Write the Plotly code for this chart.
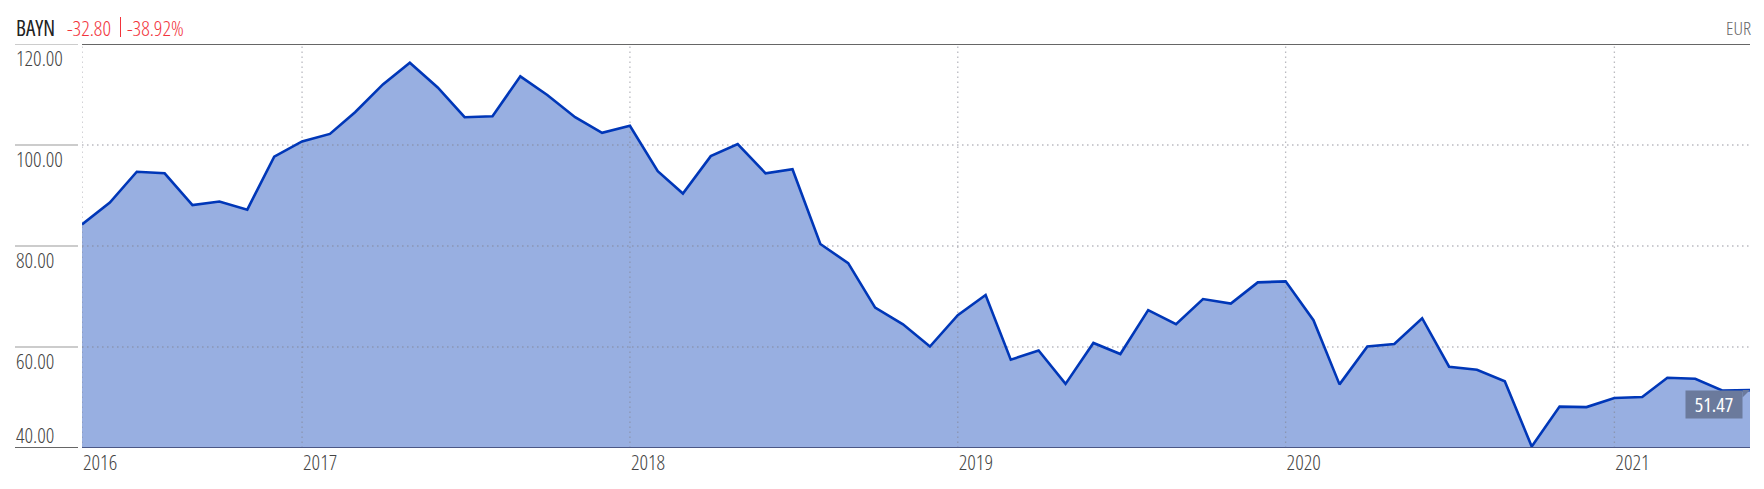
import pandas as pd
import plotly.graph_objects as go

# ---------------- data ----------------
ticker = "BAYN"
currency = "EUR"
dates = pd.date_range("2016-05-01", "2021-06-01", freq="MS")
prices = [
    84.27, 88.6, 94.7, 94.4, 88.1, 88.8, 87.2, 97.7,
    100.7, 102.2, 106.5, 112.0, 116.3, 111.4, 105.5, 105.7, 113.6, 109.9, 105.5, 102.4,
    103.8, 94.8, 90.4, 97.8, 100.2, 94.4, 95.2, 80.4, 76.6, 67.8, 64.5, 60.1,
    66.3, 70.3, 57.5, 59.3, 52.7, 60.8, 58.6, 67.3, 64.5, 69.5, 68.6, 72.8,
    73.0, 65.3, 52.6, 60.1, 60.6, 65.7, 56.1, 55.5, 53.2, 40.3, 48.2, 48.1,
    49.9, 50.1, 53.9, 53.7, 51.4, 51.47,
]
y_ticks = [40, 60, 80, 100, 120]
y_tick_labels = ["40.00", "60.00", "80.00", "100.00", "120.00"]
x_ticks = ["2016-05-01", "2017-01-01", "2018-01-01", "2019-01-01", "2020-01-01", "2021-01-01"]
x_tick_labels = ["2016", "2017", "2018", "2019", "2020", "2021"]

# ---------------- layout constants ----------------
OFF = 8                       # default page body margin
W, H = 1764 - OFF, 489 - 2 * OFF
ML, MT = 82 - OFF, 44 - OFF
MR = W - (1750 - OFF)
MB = H - (448 - OFF)
PW, PH = W - ML - MR, H - MT - MB
FONT = "Open Sans, Roboto, sans-serif"
FS = 21
LINE_C = "#0037b8"
FILL_C = "#98afe1"
RED = "#f2333b"
TXT = "#444444"


def px_x(p):
    return (p - OFF - ML) / PW


def px_y(p):
    return (H - MB - (p - OFF)) / PH


def cond(t):
    return f"<span style='font-stretch:87%'>{t}</span>"


first, last = prices[0], prices[-1]
change = last - first
pct = change / first * 100

fig = go.Figure()

# area
fig.add_trace(go.Scatter(
    x=dates, y=prices, mode="lines", fill="tozeroy",
    fillcolor=FILL_C, line=dict(color=FILL_C, width=0), hoverinfo="skip",
))

# dotted grid above the fill
gx, gy = [], []
for v in y_ticks[1:-1]:
    gx += [dates[0], dates[-1], None]
    gy += [v, v, None]
for d in x_ticks:
    gx += [pd.Timestamp(d), pd.Timestamp(d), None]
    gy += [y_ticks[0], y_ticks[-1], None]
fig.add_trace(go.Scatter(
    x=gx, y=gy, mode="lines", hoverinfo="skip",
    line=dict(color="rgba(130,130,140,0.55)", width=1.3, dash="1.5px,3.5px"),
))

# price line
fig.add_trace(go.Scatter(
    x=dates, y=prices, mode="lines",
    line=dict(color=LINE_C, width=2.6), hoverinfo="skip",
))

shapes = []
annotations = []

# left tick segments and y labels
for v, t in zip(y_ticks, y_tick_labels):
    bottom = v == y_ticks[0]
    shapes.append(dict(
        type="line", xref="paper", yref="y", x0=px_x(15), x1=px_x(78), y0=v, y1=v,
        line=dict(color="#666666" if bottom else "#cccccc", width=2),
    ))
    annotations.append(dict(
        xref="paper", yref="y", x=px_x(14), y=v, xanchor="left",
        yanchor="bottom" if bottom else "top",
        yshift=-3 if bottom else 2, text=cond(t), showarrow=False,
        font=dict(family=FONT, size=FS, weight=300, color=TXT),
    ))

# top and bottom frame lines
shapes.append(dict(type="line", xref="paper", yref="y", x0=0, x1=1,
                   y0=y_ticks[-1], y1=y_ticks[-1],
                   line=dict(color="#666666", width=2.2)))
shapes.append(dict(type="line", xref="paper", yref="y", x0=0, x1=1,
                   y0=y_ticks[0], y1=y_ticks[0],
                   line=dict(color="#4b5785", width=2)))

# last price flag
annotations.append(dict(
    x=dates[-1], y=last, xref="x", yref="y", xanchor="right", yanchor="top",
    xshift=-7, text=cond(f"{last:.2f}"), showarrow=False, bgcolor="#6b7a9c",
    width=48, height=19, borderpad=4,
    font=dict(family=FONT, size=FS - 1, weight=400, color="white"),
))
shapes.append(dict(
    type="path", xref="x", yref="y", xsizemode="pixel", ysizemode="pixel",
    xanchor=dates[-1], yanchor=last, path="M -7.5,0 L 0,0 L -7.5,-7.5 Z",
    fillcolor="#6b7a9c", line=dict(width=0),
))

# header
annotations.append(dict(xref="paper", yref="paper", x=px_x(14), y=px_y(27.5),
                        xanchor="left", yanchor="middle", text=cond(ticker), showarrow=False,
                        font=dict(family=FONT, size=FS, weight=400, color="#222222")))
annotations.append(dict(xref="paper", yref="paper", x=px_x(65), y=px_y(27.5),
                        xanchor="left", yanchor="middle", text=cond(f"{change:.2f}"), showarrow=False,
                        font=dict(family=FONT, size=FS, weight=300, color=RED)))
annotations.append(dict(xref="paper", yref="paper", x=px_x(125), y=px_y(27.5),
                        xanchor="left", yanchor="middle", text=cond(f"{pct:.2f}%"), showarrow=False,
                        font=dict(family=FONT, size=FS, weight=300, color=RED)))
shapes.append(dict(type="line", xref="paper", yref="paper", x0=px_x(120.5), x1=px_x(120.5),
                   y0=px_y(17), y1=px_y(37), line=dict(color=RED, width=1)))
annotations.append(dict(xref="paper", yref="paper", x=px_x(1753), y=px_y(27.5),
                        xanchor="right", yanchor="middle", text=cond(currency), showarrow=False,
                        font=dict(family=FONT, size=FS - 2, weight=300, color="#666666")))

fig.update_layout(
    width=W, height=H,
    margin=dict(l=ML, r=MR, t=MT, b=MB, pad=0, autoexpand=False),
    paper_bgcolor="white", plot_bgcolor="white",
    showlegend=False,
    shapes=shapes, annotations=annotations,
    xaxis=dict(
        range=[dates[0], dates[-1]], showgrid=False, zeroline=False, showline=False,
        automargin=False,
        tickmode="array", tickvals=x_ticks, ticktext=[cond(t) for t in x_tick_labels],
        ticks="", ticklabelposition="outside right", ticklabelshift=1,
        tickfont=dict(family=FONT, size=FS, weight=300, color=TXT),
    ),
    yaxis=dict(
        range=[y_ticks[0], y_ticks[-1]], showgrid=False, zeroline=False, showline=False,
        automargin=False, showticklabels=False, ticks="",
    ),
)

fig.write_html("out.html")
